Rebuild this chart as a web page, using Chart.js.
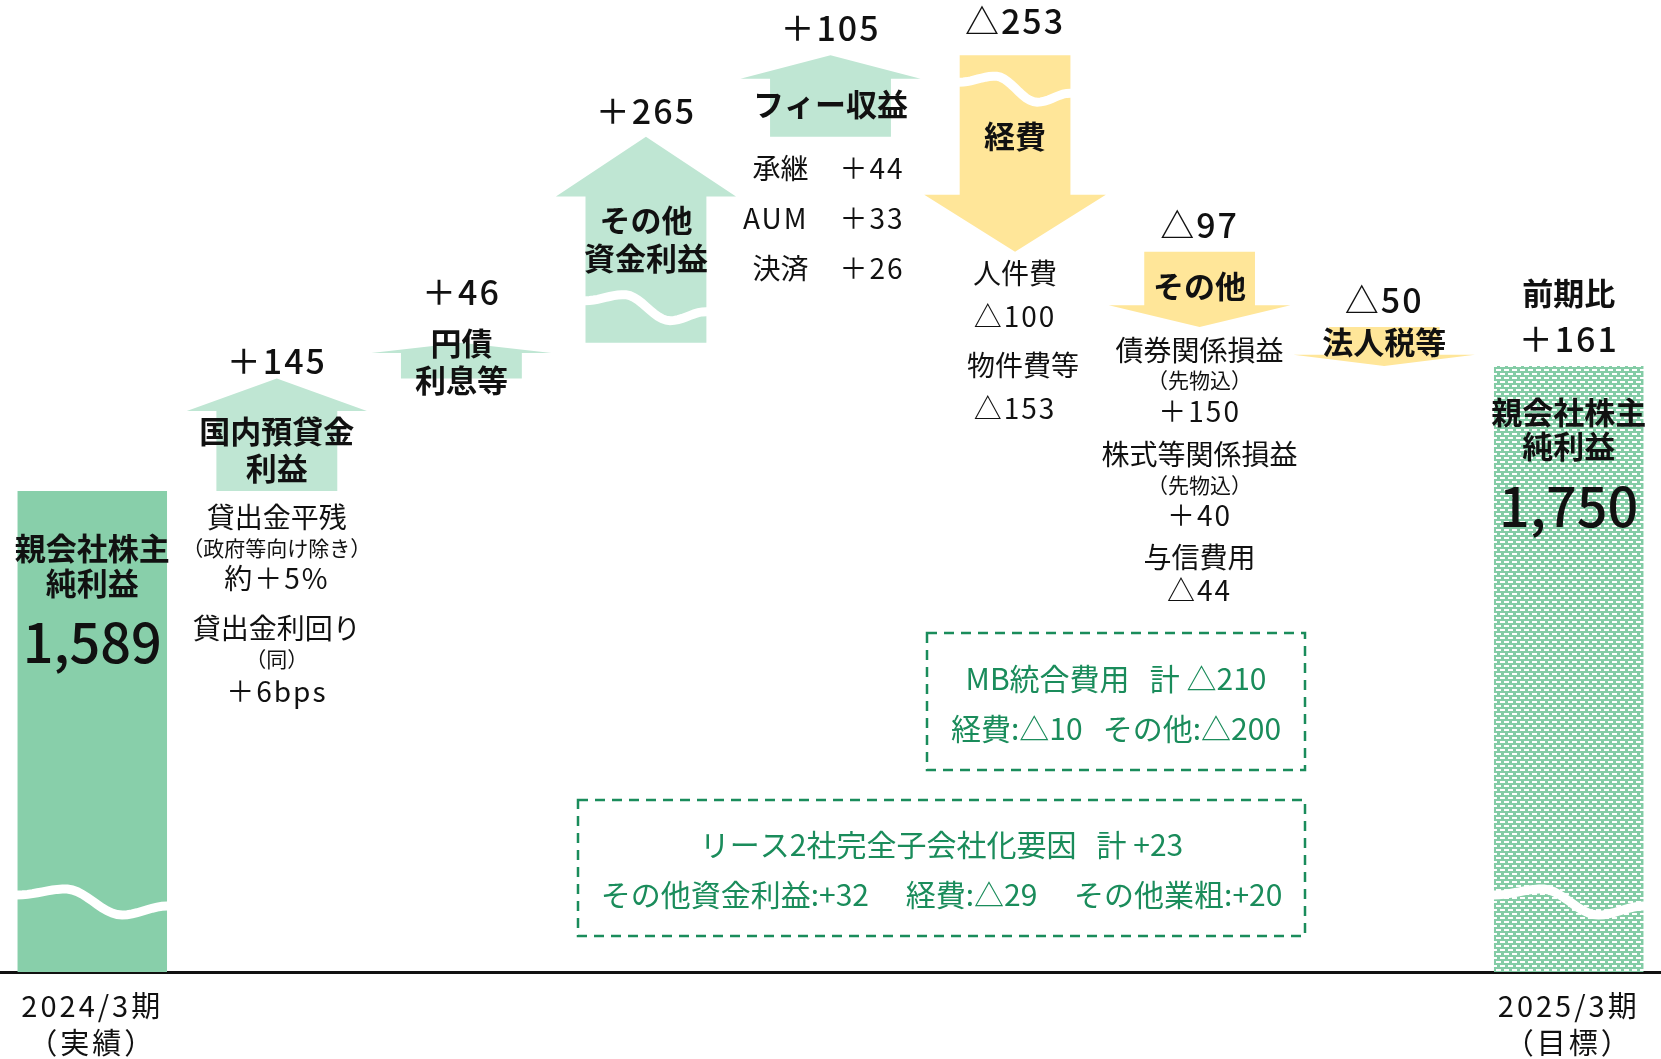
<!DOCTYPE html>
<html lang="ja">
<head>
<meta charset="utf-8">
<title>親会社株主純利益 増減要因</title>
<script src="https://cdn.jsdelivr.net/npm/chart.js@4.4.1/dist/chart.umd.min.js"></script>
<style>
    html, body { margin: 0; padding: 0; background: #fff; }
    #wrap { width: 1661px; height: 1059px; position: relative; }
</style>
</head>
<body>
<div id="wrap"><canvas id="bridgeChart"></canvas></div>
<script>
// 項目と数値
const categories = ['2024/3期', '国内預貸金利益', '円債利息等', 'その他資金利益', 'フィー収益', '経費', 'その他', '法人税等', '2025/3期'];
const xTickLabels = [['2024/3期', '（実績）'], '', '', '', '', '', '', '', ['2025/3期', '（目標）']];
const startValue = 1589;
const endValue = 1750;
const deltas = [145, 46, 265, 105, -253, -97, -50];
const axisMin = 970;   // 省略軸（波線）の下端
const axisMax = 2221;

// 色
const GREEN = '#88cfaa';
const GREEN_LIGHT = '#bfe6d3';
const YELLOW = '#ffe699';
const DARK_GREEN = '#1a8c5b';
const INK = '#111';

// 目標のバー用ドット柄
function makePattern() {
    const c = document.createElement('canvas');
    c.width = 8; c.height = 8;
    const p = c.getContext('2d');
    p.fillStyle = '#84cca6';
    p.fillRect(0, 0, 8, 8);
    p.fillStyle = '#ffffff';
    p.fillRect(0, 1, 5, 2);
    p.fillRect(4, 5, 5, 2);
    p.fillRect(-4, 5, 5, 2);
    return p.createPattern(c, 'repeat');
}

// ウォーターフォール用のデータを作成
const totalData = categories.map(() => null);
const upData = categories.map(() => null);
const downData = categories.map(() => null);
totalData[0] = [axisMin, startValue];
let running = startValue;
deltas.forEach((d, k) => {
    const range = [running, running + d];
    if (d >= 0) upData[k + 1] = range; else downData[k + 1] = range;
    running += d;
});
totalData[categories.length - 1] = [axisMin, endValue];

const fmtDelta = d => (d >= 0 ? '＋' : '△') + Math.abs(d);
const fmtTotal = v => v.toLocaleString('en-US');

// 文字のスタイル
const styles = {
    val:   { font: '500 34px "Noto Sans CJK JP"', ls: 2 },
    name:  { font: '700 31px "Noto Sans CJK JP"', ls: 0 },
    body:  { font: '400 28px "Noto Sans CJK JP"', ls: 0 },
    num:   { font: '400 28px "Noto Sans CJK JP"', ls: 2 },
    small: { font: '400 21px "Noto Sans CJK JP"', ls: 0 },
    big:   { font: '500 54px "Noto Sans CJK JP"', ls: 0 }
};

// 注記: [項目番号, 上端からのy, テキスト, スタイル, dx, 揃え]
const notes = [
    [0, 57, '親会社株主', 'name'], [0, 92, '純利益', 'name'], [0, 151, fmtTotal(startValue), 'big'],
    [1, -17, fmtDelta(deltas[0]), 'val'], [1, 53, '国内預貸金', 'name'], [1, 90, '利益', 'name'],
    [1, 139, '貸出金平残', 'body'], [1, 170, '（政府等向け除き）', 'small'], [1, 200, '約＋5%', 'num'],
    [1, 250, '貸出金利回り', 'body'], [1, 281, '（同）', 'small'], [1, 313, '＋6bps', 'num'],
    [2, -51, fmtDelta(deltas[1]), 'val'], [2, 1, '円債', 'name'], [2, 38, '利息等', 'name'],
    [3, -26, fmtDelta(deltas[2]), 'val'], [3, 83, 'その他', 'name'], [3, 121, '資金利益', 'name'],
    [4, -27, fmtDelta(deltas[3]), 'val'], [4, 49, 'フィー収益', 'name'],
    [4, 113, '承継', 'body', -22, 'right'], [4, 113, '＋44', 'num', 74, 'right'],
    [4, 163, 'AUM', 'num', -22, 'right'], [4, 163, '＋33', 'num', 74, 'right'],
    [4, 213, '決済', 'body', -22, 'right'], [4, 213, '＋26', 'num', 74, 'right'],
    [5, -34, fmtDelta(deltas[4]), 'val'], [5, 81, '経費', 'name'],
    [5, 218, '人件費', 'body'], [5, 261, '△100', 'num'], [5, 310, '物件費等', 'body', 8], [5, 353, '△153', 'num'],
    [6, -27, fmtDelta(deltas[5]), 'val'], [6, 34, 'その他', 'name'],
    [6, 99, '債券関係損益', 'body'], [6, 128, '（先物込）', 'small'], [6, 160, '＋150', 'num'],
    [6, 203, '株式等関係損益', 'body'], [6, 233, '（先物込）', 'small'], [6, 264, '＋40', 'num'],
    [6, 306, '与信費用', 'body'], [6, 339, '△44', 'num'],
    [7, -27, fmtDelta(deltas[6]), 'val'], [7, 15, '法人税等', 'name'],
    [8, -73, '前期比', 'name'], [8, -27, fmtDelta(endValue - startValue), 'val'],
    [8, 46, '親会社株主', 'name'], [8, 80, '純利益', 'name'], [8, 141, fmtTotal(endValue), 'big']
];

// 波線（省略記号）: [項目番号, 始点からのy]
const waves = [[0, -77], [3, -42], [5, 27], [8, -77]];
const waveShape = [[0, 0], [0.32, -6], [0.7, 20], [1, 11]];

// 点線の枠
const boxes = [
    { x: 927, y: 633, w: 378, h: 137, lines: [['MB統合費用   計 △210', 679], ['経費:△10   その他:△200', 729]] },
    { x: 578, y: 800, w: 727, h: 136, lines: [['リース2社完全子会社化要因   計 +23', 845], ['その他資金利益:+32　 経費:△29　 その他業粗:+20', 895]] }
];

function findBar(chart, i) {
    for (let d = 0; d < chart.data.datasets.length; d++) {
        const v = chart.data.datasets[d].data[i];
        if (v != null) {
            const el = chart.getDatasetMeta(d).data[i];
            const y = chart.scales.y;
            return { x: el.x, width: el.width, startY: y.getPixelForValue(v[0]), endY: y.getPixelForValue(v[1]) };
        }
    }
    return null;
}

function waveY(t) {
    for (let k = 1; k < waveShape.length; k++) {
        const [t0, y0] = waveShape[k - 1], [t1, y1] = waveShape[k];
        if (t <= t1) {
            const u = (t - t0) / (t1 - t0);
            return y0 + (y1 - y0) * (1 - Math.cos(Math.PI * u)) / 2;
        }
    }
    return waveShape[waveShape.length - 1][1];
}

const bridgePlugin = {
    id: 'bridge',
    beforeDraw(chart) {
        chart.ctx.letterSpacing = '3px'; // x軸ラベル用
    },
    beforeDatasetsDraw(chart) {
        chart.ctx.letterSpacing = '0px';
    },
    // 矢印はバーの位置から描く
    beforeDatasetDraw(chart, args) {
        const ds = chart.data.datasets[args.index];
        if (!ds.arrowHead) return;
        const ctx = chart.ctx;
        ctx.save();
        ctx.fillStyle = ds.backgroundColor;
        ds.data.forEach((v, i) => {
            if (v == null) return;
            const b = findBar(chart, i);
            const x = b.x, start = b.startY, tip = b.endY;
            const headY = tip + (start - tip) * 0.29;
            const hs = b.width / 2, hh = b.width / 2 * ds.arrowHead;
            ctx.beginPath();
            ctx.moveTo(x - hs, start);
            ctx.lineTo(x - hs, headY);
            ctx.lineTo(x - hh, headY);
            ctx.lineTo(x, tip);
            ctx.lineTo(x + hh, headY);
            ctx.lineTo(x + hs, headY);
            ctx.lineTo(x + hs, start);
            ctx.closePath();
            ctx.fill();
        });
        ctx.restore();
        return false;
    },
    afterDatasetsDraw(chart) {
        const ctx = chart.ctx;
        ctx.save();
        ctx.strokeStyle = '#ffffff';
        ctx.lineWidth = 9;
        waves.forEach(([i, dy]) => {
            const b = findBar(chart, i);
            const left = b.x - b.width / 2, y0 = b.startY + dy;
            ctx.beginPath();
            for (let s = 0; s <= 30; s++) {
                const t = s / 30;
                const px = left + t * b.width, py = y0 + waveY(t);
                if (s === 0) ctx.moveTo(px - 1, py); else ctx.lineTo(px, py);
            }
            ctx.lineTo(left + b.width + 1, y0 + waveY(1));
            ctx.stroke();
        });
        ctx.restore();
    },
    afterDraw(chart) {
        const ctx = chart.ctx;
        ctx.save();
        ctx.textBaseline = 'middle';
        ctx.fillStyle = INK;
        notes.forEach(([i, dy, text, styleKey, dx, align]) => {
            const b = findBar(chart, i);
            const st = styles[styleKey];
            ctx.font = st.font;
            ctx.letterSpacing = st.ls + 'px';
            ctx.textAlign = align || 'center';
            ctx.fillText(text, b.x + (dx || 0), Math.min(b.startY, b.endY) + dy);
        });

        // 点線の枠と注記
        ctx.letterSpacing = '0px';
        ctx.strokeStyle = DARK_GREEN;
        ctx.fillStyle = DARK_GREEN;
        ctx.lineWidth = 2.5;
        ctx.setLineDash([10, 7]);
        ctx.font = '400 30px "Noto Sans CJK JP"';
        ctx.textAlign = 'center';
        boxes.forEach(b => {
            ctx.strokeRect(b.x, b.y, b.w, b.h);
            b.lines.forEach(([text, ty]) => ctx.fillText(text, b.x + b.w / 2, ty));
        });
        ctx.restore();
    }
};

const ctx = document.getElementById('bridgeChart').getContext('2d');
new Chart(ctx, {
    type: 'bar',
    data: {
        labels: xTickLabels,
        datasets: [{
            label: '親会社株主純利益',
            data: totalData,
            backgroundColor: [GREEN, null, null, null, null, null, null, null, makePattern()],
            barPercentage: 0.81,
            categoryPercentage: 1,
            grouped: false
        }, {
            label: '増益要因',
            data: upData,
            backgroundColor: GREEN_LIGHT,
            barPercentage: 0.655,
            categoryPercentage: 1,
            grouped: false,
            arrowHead: 1.49
        }, {
            label: '減益要因',
            data: downData,
            backgroundColor: YELLOW,
            barPercentage: 0.6,
            categoryPercentage: 1,
            grouped: false,
            arrowHead: 1.64
        }]
    },
    options: {
        responsive: true,
        maintainAspectRatio: false,
        animation: false,
        devicePixelRatio: 1,
        layout: { padding: 0 },
        plugins: {
            legend: { display: false },
            tooltip: { enabled: false }
        },
        scales: {
            x: {
                grid: { display: false, drawTicks: false },
                border: { display: true, color: INK, width: 3 },
                ticks: {
                    autoSkip: false,
                    maxRotation: 0,
                    padding: 15,
                    color: INK,
                    font: { family: '"Noto Sans CJK JP"', size: 29, lineHeight: 1.28 }
                },
                afterFit: (scale) => { scale.height = 87; }
            },
            y: {
                display: false,
                min: axisMin,
                max: axisMax
            }
        }
    },
    plugins: [bridgePlugin]
});
</script>
</body>
</html>
